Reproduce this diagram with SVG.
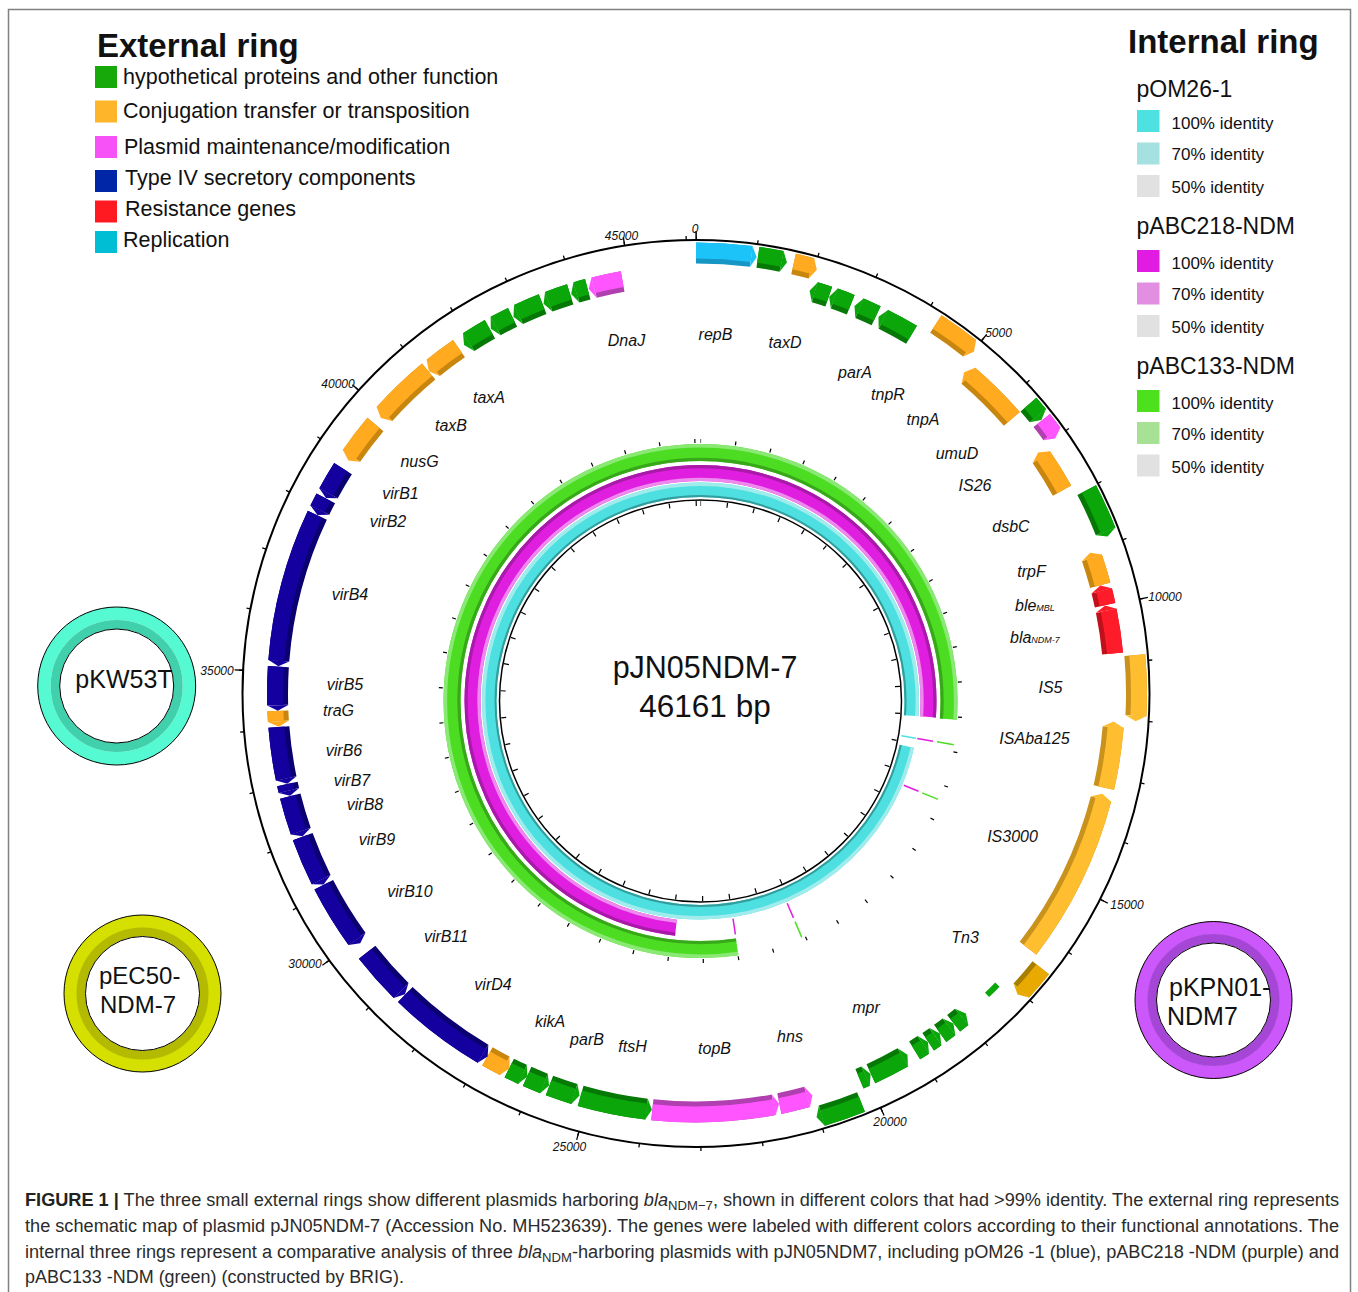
<svg xmlns="http://www.w3.org/2000/svg" width="1358" height="1292" viewBox="0 0 1358 1292">
<defs>
<style>
text{font-family:"Liberation Sans",Arial,sans-serif;fill:#111}
.gl{font-style:italic;font-size:16px;text-anchor:middle}
.tl{font-style:italic;font-size:12px;text-anchor:middle}
.lg{font-size:21.5px}
.lh{font-size:33px;font-weight:bold}
.it{font-size:17px}
.st{font-size:23px}
.cap{font-size:18px;fill:#2b2b2b}
.d,.l,.r{fill:none}
.d{stroke-width:21}
.l{stroke-width:16}
.gr .d{stroke:#067806}.gr .l{stroke:#0AA60A}.gr .t{fill:#0AA60A}
.or .d{stroke:#C8860F}.or .l{stroke:#FFAA1F}.or .t{fill:#FFAA1F}
.ye .d{stroke:#C8921C}.ye .l{stroke:#FFBE2F}.ye .t{fill:#FFBE2F}
.od .d{stroke:#A87E00}.od .l{stroke:#E8AA00}.od .t{fill:#E8AA00}
.mg .d{stroke:#B03FB0}.mg .l{stroke:#FF55FF}.mg .t{fill:#FF55FF}
.nv .d{stroke:#0A0070}.nv .l{stroke:#14009F}.nv .t{fill:#14009F}
.rd .d{stroke:#C0101C}.rd .l{stroke:#FF1C2A}.rd .t{fill:#FF1C2A}
.cy .d{stroke:#1596C4}.cy .l{stroke:#1CC3F8}.cy .t{fill:#1CC3F8}
.rg{stroke-dasharray:94.2 77.3 200}
.rm{stroke-dasharray:94 92.2 200}
.rc{stroke-dasharray:94 8.4 300}
</style>
<polygon id="tO" points="451,0 440.5,5.5 430,0"/>
<polygon id="tI" points="429,0 418.5,-5.5 408,0"/>
</defs>
<rect width="1358" height="1292" fill="#fff"/>
<rect x="8.5" y="9.5" width="1342" height="1300" fill="none" stroke="#808080" stroke-width="1.5"/>

<!-- External ring legend -->
<g id="legend-external">
<text x="97" y="57" class="lh">External ring</text>
<rect x="95" y="66" width="22" height="22" fill="#17A80A"/>
<text x="123" y="83.5" class="lg">hypothetical proteins and other function</text>
<rect x="95" y="100.5" width="22" height="22" fill="#FFB52A"/>
<text x="123" y="117.5" class="lg">Conjugation transfer or transposition</text>
<rect x="95" y="136" width="22" height="22" fill="#F752F7"/>
<text x="124" y="153.5" class="lg">Plasmid maintenance/modification</text>
<rect x="95" y="170" width="22" height="22" fill="#0026A8"/>
<text x="125" y="185" class="lg">Type IV secretory components</text>
<rect x="95" y="200.5" width="22" height="22" fill="#FF1A22"/>
<text x="125" y="216" class="lg">Resistance genes</text>
<rect x="95" y="231" width="22" height="22" fill="#00BED3"/>
<text x="123" y="246.5" class="lg">Replication</text>
</g>

<!-- Internal ring legend -->
<g id="legend-internal">
<text x="1128" y="53" class="lh">Internal ring</text>
<text x="1136.5" y="96.5" class="st">pOM26-1</text>
<rect x="1137" y="110" width="22.5" height="22" fill="#4DE1E1"/>
<text x="1171.5" y="128.5" class="it">100% identity</text>
<rect x="1137" y="142.5" width="22.5" height="22" fill="#A5E1E1"/>
<text x="1171.5" y="160" class="it">70% identity</text>
<rect x="1137" y="175" width="22.5" height="22" fill="#E1E1E1"/>
<text x="1171.5" y="192.5" class="it">50% identity</text>
<text x="1136.5" y="233.5" class="st">pABC218-NDM</text>
<rect x="1137" y="250" width="22.5" height="22" fill="#E11BE1"/>
<text x="1171.5" y="268.5" class="it">100% identity</text>
<rect x="1137" y="282.5" width="22.5" height="22" fill="#E28FE2"/>
<text x="1171.5" y="300" class="it">70% identity</text>
<rect x="1137" y="315" width="22.5" height="22" fill="#E1E1E1"/>
<text x="1171.5" y="332.5" class="it">50% identity</text>
<text x="1136.5" y="373.5" class="st">pABC133-NDM</text>
<rect x="1137" y="390" width="22.5" height="22" fill="#4CE11C"/>
<text x="1171.5" y="408.5" class="it">100% identity</text>
<rect x="1137" y="422" width="22.5" height="22" fill="#A6E195"/>
<text x="1171.5" y="440" class="it">70% identity</text>
<rect x="1137" y="454.5" width="22.5" height="22" fill="#E1E1E1"/>
<text x="1171.5" y="472.5" class="it">50% identity</text>
</g>

<!-- small external plasmid rings -->
<g id="pKW53T">
<circle cx="116.7" cy="686" r="72.5" fill="none" stroke="#55FAD2" stroke-width="13"/>
<circle cx="116.7" cy="686" r="61.5" fill="none" stroke="#40D0AC" stroke-width="9"/>
<circle cx="116.7" cy="686" r="79" fill="none" stroke="#000" stroke-width="1"/>
<circle cx="116.7" cy="686" r="57" fill="#fff" stroke="#000" stroke-width="1"/>
<text x="124" y="688" font-size="25" text-anchor="middle">pKW53T</text>
</g>
<g id="pEC50-NDM-7">
<circle cx="142.5" cy="993.5" r="72" fill="none" stroke="#D5DF00" stroke-width="13"/>
<circle cx="142.5" cy="993.5" r="61.5" fill="none" stroke="#B3BA00" stroke-width="9"/>
<circle cx="142.5" cy="993.5" r="78.5" fill="none" stroke="#000" stroke-width="1"/>
<circle cx="142.5" cy="993.5" r="57" fill="#fff" stroke="#000" stroke-width="1"/>
<text x="99" y="984" font-size="24">pEC50-</text>
<text x="100" y="1013" font-size="24">NDM-7</text>
</g>
<g id="pKPN01-NDM7">
<circle cx="1213.5" cy="1000" r="72" fill="none" stroke="#CC57FA" stroke-width="13"/>
<circle cx="1213.5" cy="1000" r="61.5" fill="none" stroke="#A646D6" stroke-width="9"/>
<circle cx="1213.5" cy="1000" r="78.5" fill="none" stroke="#000" stroke-width="1"/>
<circle cx="1213.5" cy="1000" r="57" fill="#fff" stroke="#000" stroke-width="1"/>
<text x="1169" y="996" font-size="25">pKPN01-</text>
<text x="1167" y="1025" font-size="25">NDM7</text>
</g>

<!-- main backbone circle + scale -->
<g id="backbone">
<circle cx="696" cy="693.5" r="453.5" fill="none" stroke="#000" stroke-width="2"/>
<g transform="translate(696 693.5) rotate(-90)">
<circle r="455.5" fill="none" stroke="#000" stroke-width="4" pathLength="46161" stroke-dasharray="21 979" stroke-dashoffset="10.5"/>
<circle r="457.75" fill="none" stroke="#000" stroke-width="8.5" pathLength="46161" stroke-dasharray="21 4979" stroke-dashoffset="10.5"/>
</g>
<line x1="696" y1="240" x2="696" y2="231" stroke="#000" stroke-width="1.3"/>
</g>
<g id="scale-labels">
<text x="695" y="233" class="tl">0</text>
<text x="998.5" y="337" class="tl">5000</text>
<text x="1165" y="600.5" class="tl">10000</text>
<text x="1127" y="909" class="tl">15000</text>
<text x="890" y="1126" class="tl">20000</text>
<text x="569.5" y="1150.5" class="tl">25000</text>
<text x="305" y="968" class="tl">30000</text>
<text x="217" y="675" class="tl">35000</text>
<text x="338" y="387.5" class="tl">40000</text>
<text x="621.5" y="239.5" class="tl">45000</text>
</g>

<!-- genes of pJN05NDM-7 -->
<g id="genes" transform="translate(696 693.5) rotate(-90)">
<g id="repB" class="cy"><circle class="d" r="440.5" pathLength="360" stroke-dasharray="7.2 400"/><circle class="l" r="443" pathLength="360" stroke-dasharray="7.2 400"/><use class="t" href="#tO" transform="rotate(7.2)"/></g>
<g id="o2" class="gr"><circle class="d" r="440.5" pathLength="360" stroke-dasharray="3.1 400" stroke-dashoffset="-8.1"/><circle class="l" r="443" pathLength="360" stroke-dasharray="3.1 400" stroke-dashoffset="-8.1"/><use class="t" href="#tO" transform="rotate(11.2)"/></g>
<g id="taxD" class="or"><circle class="d" r="440.5" pathLength="360" stroke-dasharray="2.4 400" stroke-dashoffset="-12.8"/><circle class="l" r="443" pathLength="360" stroke-dasharray="2.4 400" stroke-dashoffset="-12.8"/><use class="t" href="#tO" transform="rotate(15.2)"/></g>
<g id="tnpR" class="or"><circle class="d" r="440.5" pathLength="360" stroke-dasharray="5.4 400" stroke-dashoffset="-33"/><circle class="l" r="443" pathLength="360" stroke-dasharray="5.4 400" stroke-dashoffset="-33"/><use class="t" href="#tO" transform="rotate(38.4)"/></g>
<g id="o5" class="gr"><circle class="d" r="440.5" pathLength="360" stroke-dasharray="1.9 400" stroke-dashoffset="-49"/><circle class="l" r="443" pathLength="360" stroke-dasharray="1.9 400" stroke-dashoffset="-49"/><use class="t" href="#tO" transform="rotate(50.9)"/></g>
<g id="o6" class="mg"><circle class="d" r="440.5" pathLength="360" stroke-dasharray="2.2 400" stroke-dashoffset="-51.7"/><circle class="l" r="443" pathLength="360" stroke-dasharray="2.2 400" stroke-dashoffset="-51.7"/><use class="t" href="#tO" transform="rotate(53.9)"/></g>
<g id="dsbC" class="gr"><circle class="d" r="440.5" pathLength="360" stroke-dasharray="5.9 400" stroke-dashoffset="-62.5"/><circle class="l" r="443" pathLength="360" stroke-dasharray="5.9 400" stroke-dashoffset="-62.5"/><use class="t" href="#tO" transform="rotate(68.4)"/></g>
<g id="IS5" class="ye"><circle class="d" r="440.5" pathLength="360" stroke-dasharray="7.9 400" stroke-dashoffset="-85"/><circle class="l" r="443" pathLength="360" stroke-dasharray="7.9 400" stroke-dashoffset="-85"/><use class="t" href="#tO" transform="rotate(92.9)"/></g>
<g id="o9" class="od"><circle class="d" r="440.5" pathLength="360" stroke-dasharray="3.9 400" stroke-dashoffset="-128.5"/><circle class="l" r="443" pathLength="360" stroke-dasharray="3.9 400" stroke-dashoffset="-128.5"/><use class="t" href="#tO" transform="rotate(132.4)"/></g>
<g id="mpr" class="gr"><circle class="d" r="440.5" pathLength="360" stroke-dasharray="5.4 400" stroke-dashoffset="-158"/><circle class="l" r="443" pathLength="360" stroke-dasharray="5.4 400" stroke-dashoffset="-158"/><use class="t" href="#tO" transform="rotate(163.4)"/></g>

<g id="i1" class="gr"><circle class="d" r="418.5" pathLength="360" stroke-dasharray="2 400" stroke-dashoffset="-16.5"/><circle class="l" r="421" pathLength="360" stroke-dasharray="2 400" stroke-dashoffset="-16.5"/><use class="t" href="#tI" transform="rotate(16.5)"/></g>
<g id="i2" class="gr"><circle class="d" r="418.5" pathLength="360" stroke-dasharray="2.4 400" stroke-dashoffset="-19.3"/><circle class="l" r="421" pathLength="360" stroke-dasharray="2.4 400" stroke-dashoffset="-19.3"/><use class="t" href="#tI" transform="rotate(19.3)"/></g>
<g id="i3" class="gr"><circle class="d" r="418.5" pathLength="360" stroke-dasharray="2.5 400" stroke-dashoffset="-23"/><circle class="l" r="421" pathLength="360" stroke-dasharray="2.5 400" stroke-dashoffset="-23"/><use class="t" href="#tI" transform="rotate(23)"/></g>
<g id="parA" class="gr"><circle class="d" r="418.5" pathLength="360" stroke-dasharray="4.4 400" stroke-dashoffset="-26.6"/><circle class="l" r="421" pathLength="360" stroke-dasharray="4.4 400" stroke-dashoffset="-26.6"/><use class="t" href="#tI" transform="rotate(26.6)"/></g>
<g id="tnpA" class="or"><circle class="d" r="418.5" pathLength="360" stroke-dasharray="8.4 400" stroke-dashoffset="-40.6"/><circle class="l" r="421" pathLength="360" stroke-dasharray="8.4 400" stroke-dashoffset="-40.6"/><use class="t" href="#tI" transform="rotate(40.6)"/></g>
<g id="IS26" class="or"><circle class="d" r="418.5" pathLength="360" stroke-dasharray="5.4 400" stroke-dashoffset="-55.6"/><circle class="l" r="421" pathLength="360" stroke-dasharray="5.4 400" stroke-dashoffset="-55.6"/><use class="t" href="#tI" transform="rotate(55.6)"/></g>
<g id="trpF" class="or"><circle class="d" r="418.5" pathLength="360" stroke-dasharray="3.9 400" stroke-dashoffset="-71.1"/><circle class="l" r="421" pathLength="360" stroke-dasharray="3.9 400" stroke-dashoffset="-71.1"/><use class="t" href="#tI" transform="rotate(71.1)"/></g>
<g id="bleMBL" class="rd"><circle class="d" r="418.5" pathLength="360" stroke-dasharray="2 400" stroke-dashoffset="-75.8"/><circle class="l" r="421" pathLength="360" stroke-dasharray="2 400" stroke-dashoffset="-75.8"/><use class="t" href="#tI" transform="rotate(75.8)"/></g>
<g id="blaNDM-7" class="rd"><circle class="d" r="418.5" pathLength="360" stroke-dasharray="5.9 400" stroke-dashoffset="-78.6"/><circle class="l" r="421" pathLength="360" stroke-dasharray="5.9 400" stroke-dashoffset="-78.6"/><use class="t" href="#tI" transform="rotate(78.6)"/></g>
<g id="ISAba125" class="ye"><circle class="d" r="418.5" pathLength="360" stroke-dasharray="8.4 400" stroke-dashoffset="-94.6"/><circle class="l" r="421" pathLength="360" stroke-dasharray="8.4 400" stroke-dashoffset="-94.6"/><use class="t" href="#tI" transform="rotate(94.6)"/></g>
<g id="IS3000" class="ye"><circle class="d" r="418.5" pathLength="360" stroke-dasharray="22.9 400" stroke-dashoffset="-104.6"/><circle class="l" r="421" pathLength="360" stroke-dasharray="22.9 400" stroke-dashoffset="-104.6"/><use class="t" href="#tI" transform="rotate(104.6)"/></g>
<g id="i12" class="gr"><circle class="l" r="419" pathLength="360" stroke-dasharray="2 400" stroke-dashoffset="-134" style="stroke-width:6"/></g>
<g id="i13" class="gr"><circle class="d" r="418.5" pathLength="360" stroke-dasharray="1.4 400" stroke-dashoffset="-140.6"/><circle class="l" r="421" pathLength="360" stroke-dasharray="1.4 400" stroke-dashoffset="-140.6"/><use class="t" href="#tI" transform="rotate(140.6)"/></g>
<g id="i14" class="gr"><circle class="d" r="418.5" pathLength="360" stroke-dasharray="1.5 400" stroke-dashoffset="-142.8"/><circle class="l" r="421" pathLength="360" stroke-dasharray="1.5 400" stroke-dashoffset="-142.8"/><use class="t" href="#tI" transform="rotate(142.8)"/></g>
<g id="i15" class="gr"><circle class="d" r="418.5" pathLength="360" stroke-dasharray="1.2 400" stroke-dashoffset="-145.1"/><circle class="l" r="421" pathLength="360" stroke-dasharray="1.2 400" stroke-dashoffset="-145.1"/><use class="t" href="#tI" transform="rotate(145.1)"/></g>
<g id="i16" class="gr"><circle class="d" r="418.5" pathLength="360" stroke-dasharray="1.4 400" stroke-dashoffset="-147.1"/><circle class="l" r="421" pathLength="360" stroke-dasharray="1.4 400" stroke-dashoffset="-147.1"/><use class="t" href="#tI" transform="rotate(147.1)"/></g>
<g id="i17" class="gr"><circle class="d" r="418.5" pathLength="360" stroke-dasharray="4.9 400" stroke-dashoffset="-150.4"/><circle class="l" r="421" pathLength="360" stroke-dasharray="4.9 400" stroke-dashoffset="-150.4"/><use class="t" href="#tI" transform="rotate(150.4)"/></g>
<g id="i18" class="gr"><circle class="d" r="418.5" pathLength="360" stroke-dasharray="0.9 400" stroke-dashoffset="-156.1"/><circle class="l" r="421" pathLength="360" stroke-dasharray="0.9 400" stroke-dashoffset="-156.1"/><use class="t" href="#tI" transform="rotate(156.1)"/></g>
<g id="hns" class="mg"><circle class="d" r="418.5" pathLength="360" stroke-dasharray="3.9 400" stroke-dashoffset="-164.6"/><circle class="l" r="421" pathLength="360" stroke-dasharray="3.9 400" stroke-dashoffset="-164.6"/><use class="t" href="#tI" transform="rotate(164.6)"/></g>
<g id="topB" class="mg"><circle class="d" r="418.5" pathLength="360" stroke-dasharray="16.7 400" stroke-dashoffset="-169.3"/><circle class="l" r="421" pathLength="360" stroke-dasharray="16.7 400" stroke-dashoffset="-169.3"/><use class="t" href="#tI" transform="rotate(169.3)"/></g>
<g id="ftsH" class="gr"><circle class="d" r="418.5" pathLength="360" stroke-dasharray="9.2 400" stroke-dashoffset="-186.8"/><circle class="l" r="421" pathLength="360" stroke-dasharray="9.2 400" stroke-dashoffset="-186.8"/><use class="t" href="#tI" transform="rotate(186.8)"/></g>
<g id="parB" class="gr"><circle class="d" r="418.5" pathLength="360" stroke-dasharray="3.6 400" stroke-dashoffset="-196.9"/><circle class="l" r="421" pathLength="360" stroke-dasharray="3.6 400" stroke-dashoffset="-196.9"/><use class="t" href="#tI" transform="rotate(196.9)"/></g>
<g id="i23" class="gr"><circle class="d" r="418.5" pathLength="360" stroke-dasharray="2.5 400" stroke-dashoffset="-201.3"/><circle class="l" r="421" pathLength="360" stroke-dasharray="2.5 400" stroke-dashoffset="-201.3"/><use class="t" href="#tI" transform="rotate(201.3)"/></g>
<g id="kikA" class="gr"><circle class="d" r="418.5" pathLength="360" stroke-dasharray="2 400" stroke-dashoffset="-204.5"/><circle class="l" r="421" pathLength="360" stroke-dasharray="2 400" stroke-dashoffset="-204.5"/><use class="t" href="#tI" transform="rotate(204.5)"/></g>
<g id="i25" class="or"><circle class="d" r="418.5" pathLength="360" stroke-dasharray="2.7 400" stroke-dashoffset="-207.2"/><circle class="l" r="421" pathLength="360" stroke-dasharray="2.7 400" stroke-dashoffset="-207.2"/><use class="t" href="#tI" transform="rotate(207.2)"/></g>
<g id="virD4" class="nv"><circle class="d" r="418.5" pathLength="360" stroke-dasharray="13.4 400" stroke-dashoffset="-210.6"/><circle class="l" r="421" pathLength="360" stroke-dasharray="13.4 400" stroke-dashoffset="-210.6"/><use class="t" href="#tI" transform="rotate(210.6)"/></g>
<g id="virB11" class="nv"><circle class="d" r="418.5" pathLength="360" stroke-dasharray="7 400" stroke-dashoffset="-224.8"/><circle class="l" r="421" pathLength="360" stroke-dasharray="7 400" stroke-dashoffset="-224.8"/><use class="t" href="#tI" transform="rotate(224.8)"/></g>
<g id="virB10" class="nv"><circle class="d" r="418.5" pathLength="360" stroke-dasharray="8.7 400" stroke-dashoffset="-234.1"/><circle class="l" r="421" pathLength="360" stroke-dasharray="8.7 400" stroke-dashoffset="-234.1"/><use class="t" href="#tI" transform="rotate(234.1)"/></g>
<g id="virB9" class="nv"><circle class="d" r="418.5" pathLength="360" stroke-dasharray="6.4 400" stroke-dashoffset="-243.6"/><circle class="l" r="421" pathLength="360" stroke-dasharray="6.4 400" stroke-dashoffset="-243.6"/><use class="t" href="#tI" transform="rotate(243.6)"/></g>
<g id="virB8" class="nv"><circle class="d" r="418.5" pathLength="360" stroke-dasharray="5 400" stroke-dashoffset="-250.8"/><circle class="l" r="421" pathLength="360" stroke-dasharray="5 400" stroke-dashoffset="-250.8"/><use class="t" href="#tI" transform="rotate(250.8)"/></g>
<g id="virB7" class="nv"><circle class="d" r="418.5" pathLength="360" stroke-dasharray="0.9 400" stroke-dashoffset="-256.6"/><circle class="l" r="421" pathLength="360" stroke-dasharray="0.9 400" stroke-dashoffset="-256.6"/><use class="t" href="#tI" transform="rotate(256.6)"/></g>
<g id="virB6" class="nv"><circle class="d" r="418.5" pathLength="360" stroke-dasharray="7.1 400" stroke-dashoffset="-258.3"/><circle class="l" r="421" pathLength="360" stroke-dasharray="7.1 400" stroke-dashoffset="-258.3"/><use class="t" href="#tI" transform="rotate(258.3)"/></g>
<g id="traG" class="or"><circle class="d" r="418.5" pathLength="360" stroke-dasharray="1.4 400" stroke-dashoffset="-266.2"/><circle class="l" r="421" pathLength="360" stroke-dasharray="1.4 400" stroke-dashoffset="-266.2"/><use class="t" href="#tI" transform="rotate(266.2)"/></g>
<g id="virB5" class="nv"><circle class="d" r="418.5" pathLength="360" stroke-dasharray="5.3 400" stroke-dashoffset="-268.4"/><circle class="l" r="421" pathLength="360" stroke-dasharray="5.3 400" stroke-dashoffset="-268.4"/><use class="t" href="#tI" transform="rotate(268.4)"/></g>
<g id="virB4" class="nv"><circle class="d" r="418.5" pathLength="360" stroke-dasharray="20.7 400" stroke-dashoffset="-274.5"/><circle class="l" r="421" pathLength="360" stroke-dasharray="20.7 400" stroke-dashoffset="-274.5"/><use class="t" href="#tI" transform="rotate(274.5)"/></g>
<g id="virB2" class="nv"><circle class="d" r="418.5" pathLength="360" stroke-dasharray="1.8 400" stroke-dashoffset="-296"/><circle class="l" r="421" pathLength="360" stroke-dasharray="1.8 400" stroke-dashoffset="-296"/><use class="t" href="#tI" transform="rotate(296)"/></g>
<g id="virB1" class="nv"><circle class="d" r="418.5" pathLength="360" stroke-dasharray="3.9 400" stroke-dashoffset="-298.6"/><circle class="l" r="421" pathLength="360" stroke-dasharray="3.9 400" stroke-dashoffset="-298.6"/><use class="t" href="#tI" transform="rotate(298.6)"/></g>
<g id="nusG" class="or"><circle class="d" r="418.5" pathLength="360" stroke-dasharray="5.4 400" stroke-dashoffset="-304.6"/><circle class="l" r="421" pathLength="360" stroke-dasharray="5.4 400" stroke-dashoffset="-304.6"/><use class="t" href="#tI" transform="rotate(304.6)"/></g>
<g id="taxB" class="or"><circle class="d" r="418.5" pathLength="360" stroke-dasharray="8.4 400" stroke-dashoffset="-311.9"/><circle class="l" r="421" pathLength="360" stroke-dasharray="8.4 400" stroke-dashoffset="-311.9"/><use class="t" href="#tI" transform="rotate(311.9)"/></g>
<g id="taxA" class="or"><circle class="d" r="418.5" pathLength="360" stroke-dasharray="4.4 400" stroke-dashoffset="-321.1"/><circle class="l" r="421" pathLength="360" stroke-dasharray="4.4 400" stroke-dashoffset="-321.1"/><use class="t" href="#tI" transform="rotate(321.1)"/></g>
<g id="i41" class="gr"><circle class="d" r="418.5" pathLength="360" stroke-dasharray="3.4 400" stroke-dashoffset="-327.1"/><circle class="l" r="421" pathLength="360" stroke-dasharray="3.4 400" stroke-dashoffset="-327.1"/><use class="t" href="#tI" transform="rotate(327.1)"/></g>
<g id="i42" class="gr"><circle class="d" r="418.5" pathLength="360" stroke-dasharray="2.6 400" stroke-dashoffset="-331.4"/><circle class="l" r="421" pathLength="360" stroke-dasharray="2.6 400" stroke-dashoffset="-331.4"/><use class="t" href="#tI" transform="rotate(331.4)"/></g>
<g id="i43" class="gr"><circle class="d" r="418.5" pathLength="360" stroke-dasharray="3.6 400" stroke-dashoffset="-334.9"/><circle class="l" r="421" pathLength="360" stroke-dasharray="3.6 400" stroke-dashoffset="-334.9"/><use class="t" href="#tI" transform="rotate(334.9)"/></g>
<g id="i44" class="gr"><circle class="d" r="418.5" pathLength="360" stroke-dasharray="3.1 400" stroke-dashoffset="-339.4"/><circle class="l" r="421" pathLength="360" stroke-dasharray="3.1 400" stroke-dashoffset="-339.4"/><use class="t" href="#tI" transform="rotate(339.4)"/></g>
<g id="i45" class="gr"><circle class="d" r="418.5" pathLength="360" stroke-dasharray="1.6 400" stroke-dashoffset="-343.4"/><circle class="l" r="421" pathLength="360" stroke-dasharray="1.6 400" stroke-dashoffset="-343.4"/><use class="t" href="#tI" transform="rotate(343.4)"/></g>
<g id="DnaJ" class="mg"><circle class="d" r="418.5" pathLength="360" stroke-dasharray="4 400" stroke-dashoffset="-345.9"/><circle class="l" r="421" pathLength="360" stroke-dasharray="4 400" stroke-dashoffset="-345.9"/><use class="t" href="#tI" transform="rotate(345.9)"/></g>
</g>

<!-- gene labels -->
<g id="gene-labels" class="gl">
<text x="626.5" y="346">DnaJ</text>
<text x="715.5" y="340">repB</text>
<text x="785" y="347.5">taxD</text>
<text x="855" y="377.5">parA</text>
<text x="888" y="400">tnpR</text>
<text x="923" y="425">tnpA</text>
<text x="957" y="459">umuD</text>
<text x="975" y="491">IS26</text>
<text x="1011" y="531.5">dsbC</text>
<text x="1031.5" y="576.5">trpF</text>
<text x="1015" y="611" text-anchor="start">ble<tspan font-size="9">MBL</tspan></text>
<text x="1010" y="642.5" text-anchor="start">bla<tspan font-size="9">NDM-7</tspan></text>
<text x="1050.5" y="692.5">IS5</text>
<text x="1034.5" y="744">ISAba125</text>
<text x="1012.5" y="842">IS3000</text>
<text x="965" y="942.5">Tn3</text>
<text x="866" y="1013">mpr</text>
<text x="790" y="1042">hns</text>
<text x="714.5" y="1054">topB</text>
<text x="632.5" y="1052">ftsH</text>
<text x="587" y="1045">parB</text>
<text x="550" y="1026.5">kikA</text>
<text x="493" y="990">virD4</text>
<text x="446" y="941.5">virB11</text>
<text x="410" y="897">virB10</text>
<text x="377" y="845">virB9</text>
<text x="365" y="810">virB8</text>
<text x="352" y="786">virB7</text>
<text x="344" y="756">virB6</text>
<text x="338.5" y="716">traG</text>
<text x="345" y="690">virB5</text>
<text x="350" y="600">virB4</text>
<text x="388" y="527">virB2</text>
<text x="400.5" y="499">virB1</text>
<text x="419.5" y="467">nusG</text>
<text x="451" y="431">taxB</text>
<text x="489" y="402.5">taxA</text>
</g>

<!-- internal comparison rings (BRIG) -->
<g id="comparison" transform="translate(700.5 701) rotate(-90)">
<g id="ring-pABC133-NDM">
<circle class="r rg" r="248.5" stroke="#4CDD22" stroke-width="17" pathLength="360"/>
<circle class="r rg" r="255.2" stroke="#8AE874" stroke-width="3.6" pathLength="360"/>
<circle class="r rg" r="241.6" stroke="#38A81A" stroke-width="3.2" pathLength="360"/>
</g>
<g id="ring-pABC218-NDM">
<circle class="r rm" r="228" stroke="#E01EE0" stroke-width="16" pathLength="360"/>
<circle class="r rm" r="234.4" stroke="#A81AA8" stroke-width="3.2" pathLength="360"/>
<circle class="r rm" r="221.6" stroke="#EE8AEE" stroke-width="3.2" pathLength="360"/>
</g>
<g id="ring-pOM26-1">
<circle class="r rc" r="211.25" stroke="#4EE0E0" stroke-width="14.5" pathLength="360"/>
<circle class="r rc" r="216.8" stroke="#A0ECEC" stroke-width="3.4" pathLength="360"/>
<circle class="r rc" r="205" stroke="#339C9C" stroke-width="2" pathLength="360"/>
</g>
<g id="hits" stroke-width="1.5">
<line x1="204" y1="0" x2="218.5" y2="0" stroke="#4EE0E0" transform="rotate(99.8)"/>
<line x1="220" y1="0" x2="236" y2="0" stroke="#E01EE0" transform="rotate(99.8)"/>
<line x1="240" y1="0" x2="257" y2="0" stroke="#4CDD22" transform="rotate(99.8)"/>
<line x1="220" y1="0" x2="236" y2="0" stroke="#E01EE0" transform="rotate(112.5)"/>
<line x1="240" y1="0" x2="257" y2="0" stroke="#4CDD22" transform="rotate(112.5)"/>
<line x1="220" y1="0" x2="236" y2="0" stroke="#E01EE0" transform="rotate(156.8)"/>
<line x1="240" y1="0" x2="257" y2="0" stroke="#4CDD22" transform="rotate(156.8)"/>
<line x1="220" y1="0" x2="236" y2="0" stroke="#E01EE0" transform="rotate(171.5)"/>
</g>
<circle class="r" r="260" stroke="#000" stroke-width="4" pathLength="46161" stroke-dasharray="34 966" stroke-dashoffset="17"/>
<circle class="r" r="197.5" stroke="#000" stroke-width="5" pathLength="46161" stroke-dasharray="45 955" stroke-dashoffset="22.5"/>
<circle class="r" r="201" stroke="#000" stroke-width="1.5"/>
</g>
<g id="center-title">
<text x="705" y="678" font-size="30.5" text-anchor="middle">pJN05NDM-7</text>
<text x="705" y="716.5" font-size="31.5" text-anchor="middle">46161 bp</text>
</g>

<!-- caption -->
<g id="caption" class="cap">
<text x="25" y="1206" class="cap" textLength="1314" lengthAdjust="spacingAndGlyphs"><tspan font-weight="bold" fill="#222">FIGURE 1 |</tspan> The three small external rings show different plasmids harboring <tspan font-style="italic">bla</tspan><tspan font-size="13" dy="4">NDM−7</tspan><tspan dy="-4">, shown in different colors that had &gt;99% identity. The external ring represents</tspan></text>
<text x="25" y="1232" class="cap" textLength="1314" lengthAdjust="spacingAndGlyphs">the schematic map of plasmid pJN05NDM-7 (Accession No. MH523639). The genes were labeled with different colors according to their functional annotations. The</text>
<text x="25" y="1257.5" class="cap" textLength="1314" lengthAdjust="spacingAndGlyphs">internal three rings represent a comparative analysis of three <tspan font-style="italic">bla</tspan><tspan font-size="13" dy="4">NDM</tspan><tspan dy="-4">-harboring plasmids with pJN05NDM7, including pOM26 -1 (blue), pABC218 -NDM (purple) and</tspan></text>
<text x="25" y="1283" class="cap" textLength="379" lengthAdjust="spacingAndGlyphs">pABC133 -NDM (green) (constructed by BRIG).</text>
</g>
</svg>
